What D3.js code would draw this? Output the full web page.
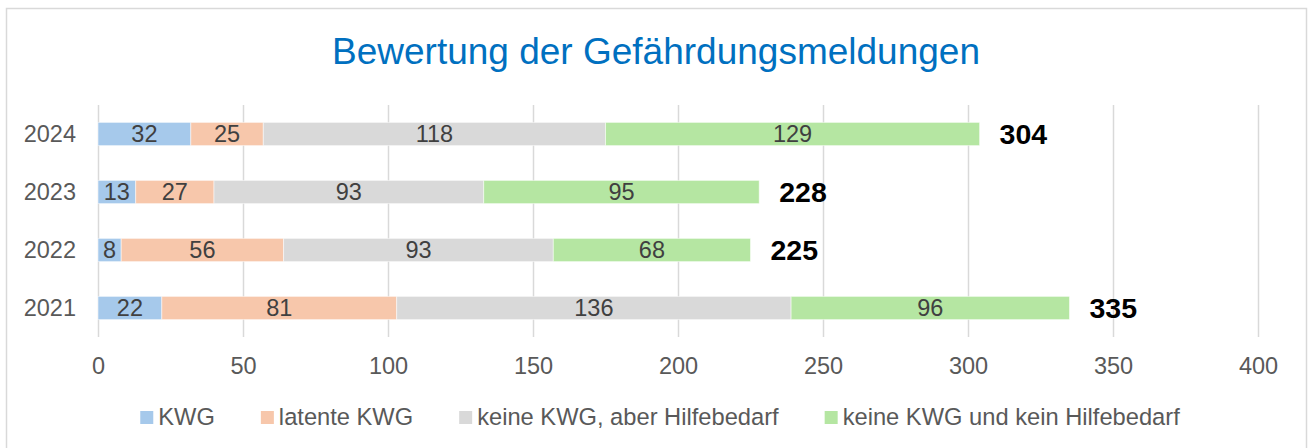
<!DOCTYPE html>
<html>
<head>
<meta charset="utf-8">
<script src="https://cdn.jsdelivr.net/npm/d3@7"></script>
<style>
  body { margin: 0; background: #fff; }
  text { font-family: "Liberation Sans", Arial, sans-serif; }
</style>
</head>
<body>
<div id="chart"></div>
<script>
// data
var years = ["2024", "2023", "2022", "2021"];
var seriesNames = ["KWG", "latente KWG", "keine KWG, aber Hilfebedarf", "keine KWG und kein Hilfebedarf"];
var kwg = [32, 13, 8, 22];
var latent = [25, 27, 56, 81];
var hilfe = [118, 93, 93, 136];
var keine = [129, 95, 68, 96];
var xTicks = [0, 50, 100, 150, 200, 250, 300, 350, 400];
var colors = ["#a6c9eb", "#f7c7ab", "#d9d9d9", "#b5e6a2"];

var svgWidth = 1309;
var svgHeight = 448;

var svg = d3.select("#chart")
  .append("svg")
  .attr("width", svgWidth)
  .attr("height", svgHeight);

// chart border
svg.append("rect")
  .attr("x", 6.5)
  .attr("y", 8.5)
  .attr("width", 1300)
  .attr("height", 460)
  .attr("fill", "none")
  .attr("stroke", "#d9d9d9")
  .attr("stroke-width", 1.5);

svg.append("text")
  .attr("x", 656)
  .attr("y", 64)
  .attr("text-anchor", "middle")
  .style("font-size", "37px")
  .style("fill", "#0070c0")
  .text("Bewertung der Gefährdungsmeldungen");

var xScale = d3.scaleLinear()
  .domain([0, 400])
  .range([98, 1258]);

var yScale = d3.scaleBand()
  .domain(years)
  .range([105, 337])
  .paddingInner(0.6)
  .paddingOuter(0.3);

// gridlines
svg.append("g")
  .attr("transform", "translate(0, 337)")
  .call(d3.axisBottom(xScale).tickValues(xTicks).tickSize(-232).tickFormat(""))
  .call(g => g.select(".domain").remove())
  .selectAll("line")
  .attr("stroke", "#d9d9d9")
  .attr("stroke-width", 1.5);

// x tick labels
svg.append("g")
  .attr("transform", "translate(0, 357)")
  .call(d3.axisBottom(xScale).tickValues(xTicks).tickSize(0).tickPadding(0))
  .call(g => g.select(".domain").remove())
  .selectAll("text")
  .attr("dy", "0.71em")
  .style("font-family", "Liberation Sans, Arial, sans-serif")
  .style("font-size", "23.5px")
  .style("fill", "#595959");

// y labels
svg.append("g")
  .attr("transform", "translate(76, 0)")
  .call(d3.axisLeft(yScale).tickSize(0).tickPadding(0))
  .call(g => g.select(".domain").remove())
  .selectAll("text")
  .attr("dy", "0.35em")
  .style("font-family", "Liberation Sans, Arial, sans-serif")
  .style("font-size", "23.5px")
  .style("fill", "#595959");

var table = years.map(function(y, i) {
  return { year: y, KWG: kwg[i], "latente KWG": latent[i],
    "keine KWG, aber Hilfebedarf": hilfe[i], "keine KWG und kein Hilfebedarf": keine[i] };
});

var stacked = d3.stack().keys(seriesNames)(table);

var layers = svg.selectAll(".layer")
  .data(stacked)
  .enter()
  .append("g")
  .attr("fill", (d, i) => colors[i]);

layers.selectAll("rect")
  .data(d => d)
  .enter()
  .append("rect")
  .attr("x", d => xScale(d[0]))
  .attr("y", d => yScale(d.data.year))
  .attr("width", d => xScale(d[1]) - xScale(d[0]))
  .attr("height", yScale.bandwidth())
  .attr("stroke", "#ffffff")
  .attr("stroke-opacity", 0.5)
  .attr("stroke-width", 1);

layers.selectAll("text")
  .data(d => d)
  .enter()
  .append("text")
  .attr("x", d => (xScale(d[0]) + xScale(d[1])) / 2)
  .attr("y", d => yScale(d.data.year) + yScale.bandwidth() / 2)
  .attr("dy", "0.35em")
  .attr("text-anchor", "middle")
  .style("font-size", "23.5px")
  .style("fill", "#404040")
  .text(d => d[1] - d[0]);

// totals
svg.selectAll(".total")
  .data(table)
  .enter()
  .append("text")
  .attr("class", "total")
  .attr("x", d => xScale(d.KWG + d["latente KWG"] + d["keine KWG, aber Hilfebedarf"] + d["keine KWG und kein Hilfebedarf"]) + 20)
  .attr("y", d => yScale(d.year) + yScale.bandwidth() / 2)
  .attr("dy", "0.36em")
  .style("font-size", "28.5px")
  .style("font-weight", "bold")
  .style("fill", "#000")
  .text(d => d.KWG + d["latente KWG"] + d["keine KWG, aber Hilfebedarf"] + d["keine KWG und kein Hilfebedarf"]);

// legend
var legend = svg.append("g");
var lx = 0;
seriesNames.forEach(function(name, i) {
  var item = legend.append("g").attr("transform", `translate(${lx}, 0)`);
  item.append("rect")
    .attr("x", 0)
    .attr("y", 411)
    .attr("width", 13)
    .attr("height", 13)
    .attr("fill", colors[i]);
  var t = item.append("text")
    .attr("x", 18)
    .attr("y", 425)
    .style("font-size", "23.7px")
    .style("fill", "#595959")
    .text(name);
  lx += 18 + t.node().getComputedTextLength() + 46;
});
var legendWidth = lx - 46;
legend.attr("transform", `translate(${660 - legendWidth / 2}, 0)`);
</script>
</body>
</html>
